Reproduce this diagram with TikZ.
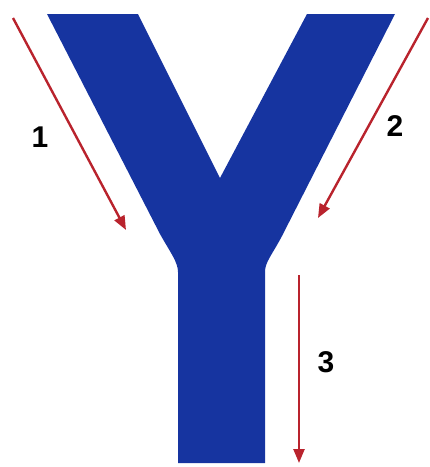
\documentclass[tikz,border=0pt]{standalone}
\usepackage{fontspec}
\setmainfont{Liberation Sans}
\usetikzlibrary{arrows.meta}
\definecolor{yblue}{RGB}{22,52,160}
\definecolor{ared}{RGB}{185,35,45}
\begin{document}
\begin{tikzpicture}[x=1pt,y=-1pt,
  flow/.style={ared,line width=2.4pt,-{Triangle[length=14pt,width=11pt]}},
  num/.style={font=\fontsize{30}{30}\selectfont\bfseries,inner sep=0pt}]
\useasboundingbox (0,0) rectangle (430,467);
% the Y
\fill[yblue] (47,14) -- (138,14) -- (220,178) -- (307,14) -- (395,14)
  -- (282,236) .. controls (272,255) and (265,262) .. (265,272)
  -- (265,463) -- (178,463) -- (178,272)
  .. controls (178,262) and (170,252) .. (160,234) -- cycle;
% arrows
\coordinate (a1s) at (13,18);  \coordinate (a1e) at (126,230);
\coordinate (a2s) at (428,18); \coordinate (a2e) at (318,218);
\coordinate (a3s) at (299,275); \coordinate (a3e) at (299,463);
\draw[flow] (a1s) -- (a1e);
\draw[flow] (a2s) -- (a2e);
\draw[flow] (a3s) -- (a3e);
% labels
\node[num] (n1) at (40,137) {1};
\node[num] (n2) at (395,126) {2};
\node[num] (n3) at (326,362) {3};
\end{tikzpicture}
\end{document}
